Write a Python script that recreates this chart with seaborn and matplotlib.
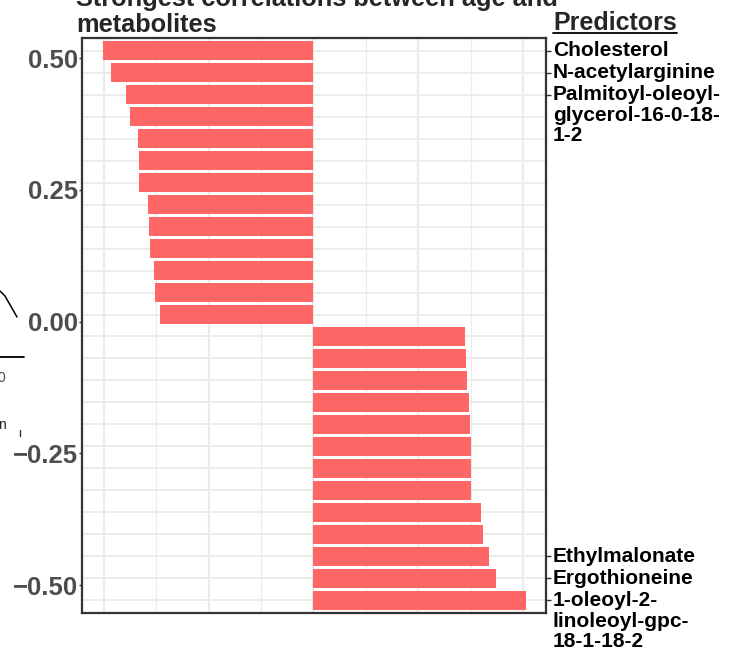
import matplotlib
matplotlib.use("Agg")
import matplotlib.pyplot as plt
from matplotlib.lines import Line2D
import seaborn as sns

# bars, top to bottom
metabolites = ["Cholesterol", "N-acetylarginine", "Palmitoyl-oleoyl-glycerol-16-0-18-1-2",
               "met_04", "met_05", "met_06", "met_07", "met_08", "met_09", "met_10",
               "met_11", "met_12", "met_13", "met_14", "met_15", "met_16", "met_17",
               "met_18", "met_19", "met_20", "met_21", "met_22", "met_23",
               "Ethylmalonate", "Ergothioneine", "1-oleoyl-2-linoleoyl-gpc-18-1-18-2"]
correlation = [-0.401, -0.387, -0.358, -0.350, -0.335, -0.333, -0.333, -0.316, -0.314,
               -0.313, -0.305, -0.303, -0.294,
               0.289, 0.291, 0.293, 0.297, 0.299, 0.301, 0.301, 0.301, 0.320, 0.323,
               0.335, 0.348, 0.406]

# only these get a label on the right
shown_idx = [0, 1, 2, 23, 24, 25]
shown_labels = ["Cholesterol", "N-acetylarginine", "Palmitoyl-oleoyl-\nglycerol-16-0-18-\n1-2",
                "Ethylmalonate", "Ergothioneine", "1-oleoyl-2-\nlinoleoyl-gpc-\n18-1-18-2"]

# left axis (left over from another panel)
left_ticks = [0.50, 0.25, 0.00, -0.25, -0.50]
left_labels = ["0.50", "0.25", "0.00", "\u22120.25", "\u22120.50"]

title = "Strongest correlations between age and\nmetabolites"

sns.set_style("white")
plt.rcParams['font.family'] = ['Liberation Sans', 'DejaVu Sans']

W, H = 736, 655
fig = plt.figure(figsize=(W / 100, H / 100), dpi=100)
ax = fig.add_axes([82 / W, 1 - 613 / H, (546 - 82) / W, (613 - 38) / H])

sns.barplot(x=correlation, y=metabolites, orient="h", color="#FF6666", saturation=1,
            width=0.9, linewidth=0, ax=ax)

n = len(correlation)
ax.set_ylim(n - 1 + 0.57, -0.57)
ax.set_xlim(-0.442, 0.444)
ax.set_xlabel("")
ax.set_ylabel("")

# numeric axis on the left
ax2 = ax.twinx()
ax2.set_ylim(-0.553, 0.538)
ax2.yaxis.tick_left()
ax2.set_yticks(left_ticks)
ax2.set_yticklabels(left_labels, fontsize=18.5, fontweight="bold", color="#4D4D4D")
ax2.tick_params(axis="y", length=2.5, width=1, color="#333333", pad=0.3,
                left=True, right=False, labelleft=True, labelright=False)
for s in ax2.spines.values():
    s.set_visible(False)

# grid
ax.set_axisbelow(True)
ax.set_xticks([-0.4, -0.2, 0, 0.2, 0.4])
ax.set_xticks([-0.3, -0.1, 0.1, 0.3], minor=True)
ax.tick_params(axis="x", which="both", length=0, labelbottom=False)
ax.grid(which="major", axis="x", color="#EBEBEB", lw=1.6)
ax.grid(which="minor", axis="x", color="#EBEBEB", lw=0.8)

ax.yaxis.remove_overlapping_locs = False
ax.set_yticks(range(n))
ax.set_yticks(shown_idx, minor=True)
ax.yaxis.tick_right()
ax.grid(which="major", axis="y", color="#EBEBEB", lw=1.3)
ax.grid(which="minor", axis="y", visible=False)
ax.tick_params(axis="y", which="major", length=0, left=False, right=False,
               labelright=False, labelleft=False)
ax.tick_params(axis="y", which="minor", length=3.6, width=1, color="#333333",
               right=True, left=False, labelright=False, labelleft=False)

for s in ax.spines.values():
    s.set_visible(True)
    s.set_color("#333333")
    s.set_linewidth(1.6)

for i, lab in zip(shown_idx, shown_labels):
    ax.annotate(lab, xy=(1, i), xycoords=("axes fraction", "data"),
                xytext=(5, 7), textcoords="offset points", ha="left", va="top",
                fontsize=15, fontweight="bold", color="black", linespacing=1.12,
                annotation_clip=False)

fig.text(76 / W, 1 - 32.5 / H, title, fontsize=18.3, fontweight="bold", ha="left",
         va="baseline", linespacing=1.12)

head = fig.text(553 / W, 1 - 29.5 / H, "Predictors", fontsize=18, fontweight="bold",
                ha="left", va="baseline")
fig.canvas.draw()
bb = head.get_window_extent()
fig.add_artist(Line2D([bb.x0 / W, bb.x1 / W], [(H - 32.5) / H] * 2, color="black",
                      lw=1.3, transform=fig.transFigure))

# bits of the neighbouring panel that show on the left edge
fig.add_artist(Line2D([0, 5 / W, 17 / W], [1 - 291 / H, 1 - 296 / H, 1 - 317 / H],
                      color="black", lw=1.1, transform=fig.transFigure))
fig.add_artist(Line2D([0, 24 / W], [1 - 357 / H] * 2, color="black", lw=1.3,
                      transform=fig.transFigure))
fig.add_artist(Line2D([20 / W, 20 / W], [1 - 430 / H, 1 - 436 / H], color="#333333",
                      lw=1, transform=fig.transFigure))
fig.text(-3 / W, 1 - 378 / H, "0", fontsize=10, color="#4D4D4D", va="center", ha="left")
fig.text(-2 / W, 1 - 425 / H, "n", fontsize=10, color="#222222", va="center", ha="left")

fig.savefig("out.png", dpi=100)
